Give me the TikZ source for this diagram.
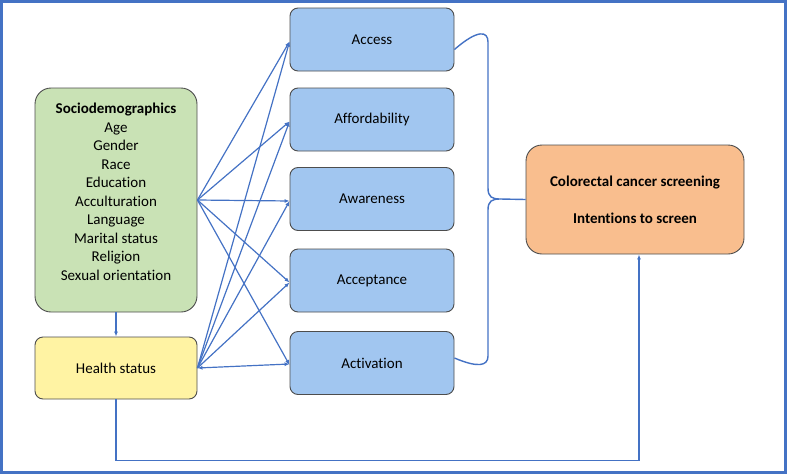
\documentclass[tikz,border=0pt]{standalone}
\usepackage{fontspec}
\setmainfont{Carlito}[Ligatures=NoCommon]
\usetikzlibrary{arrows.meta}
\definecolor{lineblue}{HTML}{4472C4}
\definecolor{boxgreen}{HTML}{C9E2B5}
\definecolor{boxyellow}{HTML}{FFF3A3}
\definecolor{boxblue}{HTML}{A1C6F0}
\definecolor{boxorange}{HTML}{F9BE8E}
\definecolor{boxedge}{HTML}{4D4D4D}

\begin{document}
\begin{tikzpicture}[x=1pt, y=-1pt,
    box/.style={draw=boxedge, line width=0.9pt, rounded corners=8pt, align=center,
                font=\fontsize{15}{18.5}\selectfont},
    factor/.style={box, fill=boxblue, minimum width=164pt, minimum height=63pt},
    link/.style={draw=lineblue, line width=1.2pt, -{Latex[length=5pt,width=4pt]}},
    brace/.style={draw=lineblue, line width=1.4pt}]
    \useasboundingbox (0,0) rectangle (787,474);
    \draw[lineblue, line width=2.5pt] (1.5,1.5) rectangle (785.5,472.5);

    % left side
    \node[box, fill=boxgreen, rounded corners=16pt, minimum width=162pt, minimum height=224pt] (socio) at (116,200) {};
    \node[align=center, font=\fontsize{15}{18.5}\selectfont] (sociotext) at (116,192)
        {\textbf{Sociodemographics}\\Age\\Gender\\Race\\Education\\Acculturation\\Language\\Marital status\\Religion\\Sexual orientation};
    \node[box, fill=boxyellow, minimum width=162pt, minimum height=62pt] (health) at (116,368) {Health status};

    % five factors
    \node[factor] (access) at (372,39.5) {Access};
    \node[factor] (afford) at (372,119.5) {Affordability};
    \node[factor] (aware) at (372,199) {Awareness};
    \node[factor] (accept) at (372,280.5) {Acceptance};
    \node[factor] (activ) at (372,363) {Activation};

    % outcome
    \node[box, fill=boxorange, rounded corners=16pt, minimum width=218pt, minimum height=109pt,
          font=\fontsize{15}{18.5}\selectfont\bfseries] (outcome) at (635,199.5)
        {Colorectal cancer screening\\[18.5pt]Intentions to screen};

    % arrows
    \draw[link] (socio.south) -- (health.north);
    \foreach \f in {access, afford, aware, accept, activ}
        \draw[link] (socio.east) -- ([yshift=-2pt]\f.west);
    \foreach \f in {access, afford, aware, accept}
        \draw[link] (health.east) -- ([yshift=-2pt]\f.west);
    \draw[link, {Latex[length=5pt,width=4pt]}-{Latex[length=5pt,width=4pt]}] (health.east) -- ([yshift=-1pt]activ.west);

    % brace
    \coordinate (tip) at (500,199);
    \draw[brace] ([yshift=-10pt]access.east) .. controls (478,29) and (488,31) .. (488,42)
        -- (488,188) .. controls (488,197) and (492,199) .. (tip)
        .. controls (492,199) and (488,201) .. (488,210)
        -- (488,356) .. controls (488,366) and (478,368) .. ([yshift=5pt]activ.east);
    \draw[brace] (tip) -- (outcome.west);

    \draw[link] (health.south) -- ++(0,61) -| ([xshift=4pt]outcome.south);
\end{tikzpicture}
\end{document}
